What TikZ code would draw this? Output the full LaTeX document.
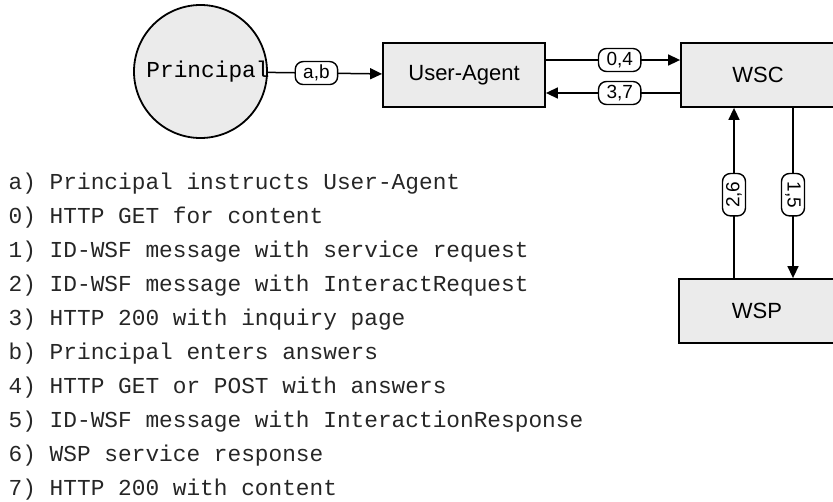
\documentclass[tikz,border=0pt]{standalone}
\usepackage{fontspec}
\setmainfont{Liberation Sans}
\newfontfamily\listfont{Liberation Mono}
\usetikzlibrary{arrows.meta}

\begin{document}
\begin{tikzpicture}[x=1pt, y=-1pt,
  entity/.style={draw, line width=1.8pt, fill=black!8, font=\fontsize{22}{24}\selectfont},
  flow/.style={line width=1.5pt, -{Triangle[length=12pt,width=11pt]}},
  tag/.style={draw, fill=white, line width=1.4pt, rounded corners=8pt, inner xsep=8pt,
    inner ysep=0pt, minimum height=23pt, font=\fontsize{19}{20}\selectfont},
  step text/.style={anchor=base west, inner sep=0pt, text=black!85,
    font=\listfont\fontsize{22.8}{24}\selectfont}]

\useasboundingbox (0,0) rectangle (833,501);

\node (principal) [circle, draw, line width=1.8pt, fill=black!8, minimum size=133pt] at (200.5,71.5) {};
\node (ptext) [anchor=base, inner sep=0pt, font=\listfont\fontsize{22.8}{24}\selectfont] at (208,77) {Principal};

\node (ua) [entity, minimum width=162pt, minimum height=64pt] at (464,75) {User-Agent};
\node (wsc) [entity, minimum width=154pt, minimum height=64pt] at (758,75) {WSC};
\node (wsp) [entity, minimum width=156pt, minimum height=64pt] at (757,311) {WSP};

\coordinate (top) at (0,60);
\coordinate (low) at (0,93);
\coordinate (up) at (734,0);
\coordinate (down) at (793,0);

\draw[flow] (principal) -- (ua) node[tag, pos=0.425] {a,b};
\draw[flow] (ua.east |- top) -- (wsc.west |- top) node[tag, pos=0.55] {0,4};
\draw[flow] (wsc.west |- low) -- (ua.east |- low) node[tag, pos=0.45] {3,7};
\draw[flow] (wsp.north -| up) -- (wsc.south -| up) node[tag, pos=0.49, rotate=90] {2,6};
\draw[flow] (wsc.south -| down) -- (wsp.north -| down) node[tag, pos=0.51, rotate=-90] {1,5};

% legend
\foreach \txt [count=\i from 0] in {a) Principal instructs User-Agent,
    0) HTTP GET for content,
    1) ID-WSF message with service request,
    2) ID-WSF message with InteractRequest,
    3) HTTP 200 with inquiry page,
    b) Principal enters answers,
    4) HTTP GET or POST with answers,
    5) ID-WSF message with InteractionResponse,
    6) WSP service response,
    7) HTTP 200 with content}
  \node (step\i) [step text] at (8.5,189.5+34*\i) {\txt};

\end{tikzpicture}
\end{document}
